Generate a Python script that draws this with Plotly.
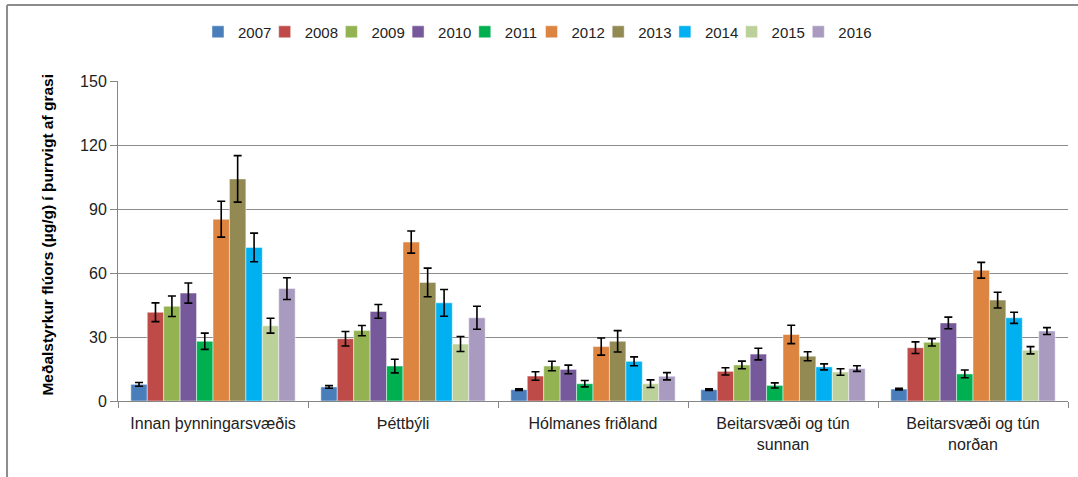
import plotly.graph_objects as go

categories = ["Innan þynningarsvæðis", "Þéttbýli", "Hólmanes friðland",
              "Beitarsvæði og tún<br>sunnan", "Beitarsvæði og tún<br>norðan"]
years = ["2007", "2008", "2009", "2010", "2011", "2012", "2013", "2014", "2015", "2016"]

v2007 = [7.8, 6.6, 5.3, 5.3, 5.6]
v2008 = [41.6, 29.2, 11.7, 13.9, 25.0]
v2009 = [44.4, 33.0, 16.4, 16.9, 27.5]
v2010 = [50.6, 42.0, 14.8, 22.0, 36.6]
v2011 = [28.0, 16.4, 8.1, 7.3, 12.7]
v2012 = [85.2, 74.5, 25.5, 31.2, 61.3]
v2013 = [104.1, 55.6, 28.0, 21.0, 47.3]
v2014 = [72.0, 46.0, 18.6, 16.0, 39.0]
v2015 = [35.3, 26.7, 8.1, 13.6, 23.8]
v2016 = [52.7, 39.0, 11.6, 15.2, 32.8]

e2007 = [0.9, 0.6, 0.4, 0.4, 0.4]
e2008 = [4.4, 3.4, 2.0, 1.7, 2.7]
e2009 = [4.8, 2.4, 2.2, 1.8, 1.7]
e2010 = [4.7, 3.2, 2.0, 2.7, 2.7]
e2011 = [3.8, 3.2, 1.5, 1.2, 1.8]
e2012 = [8.4, 5.2, 4.0, 4.3, 3.7]
e2013 = [10.9, 6.7, 5.0, 2.1, 3.7]
e2014 = [6.7, 6.25, 2.1, 1.4, 2.6]
e2015 = [3.5, 3.5, 1.8, 1.5, 1.7]
e2016 = [5.1, 5.4, 1.7, 1.3, 1.6]

values = [v2007, v2008, v2009, v2010, v2011, v2012, v2013, v2014, v2015, v2016]
errors = [e2007, e2008, e2009, e2010, e2011, e2012, e2013, e2014, e2015, e2016]
colors = ["#4A7EBB", "#BE4B48", "#93B251", "#76599A", "#00B050",
          "#DD8440", "#938953", "#00B0F0", "#BCD19A", "#A99BC0"]

font_family = "Liberation Sans, Arial, sans-serif"
leg_common = dict(orientation="h", y=1.153, yanchor="middle", xanchor="left",
                  font=dict(size=15, color="#222"), itemwidth=30, tracegroupgap=0,
                  traceorder="normal", bgcolor="rgba(255,255,255,0)")
leg_x0 = 0.0842          # paper x of first legend entry
leg_step = 66.7 / 950    # spacing between entries (paper units)

fig = go.Figure()
legend_layout = {}
for i, (yr, vals, errs, col) in enumerate(zip(years, values, errors, colors)):
    lname = "legend" if i == 0 else f"legend{i + 1}"
    legend_layout[lname] = dict(x=leg_x0 + i * leg_step, **leg_common)
    fig.add_trace(go.Bar(
        name=yr, x=categories, y=vals, legend=lname,
        marker=dict(color=col, line=dict(color="rgba(255,255,255,0.6)", width=0.8)),
        error_y=dict(type="data", array=errs, visible=True, color="black",
                     thickness=1.6, width=4),
    ))

fig.update_layout(
    width=1078, height=477,
    margin=dict(l=118, r=10, t=81, b=76),
    paper_bgcolor="white", plot_bgcolor="white",
    barmode="group", bargap=0.135, bargroupgap=0,
    font=dict(family=font_family, size=15, color="#222"),
    showlegend=True,
    xaxis=dict(showline=True, linecolor="#868686", linewidth=1,
               ticks="outside", tickson="boundaries", ticklen=6, tickcolor="#868686",
               ticklabelstandoff=8,
               tickfont=dict(size=16, color="#222")),
    yaxis=dict(range=[0, 150], tickvals=[0, 30, 60, 90, 120, 150],
               showline=True, linecolor="#868686", linewidth=1,
               ticks="outside", ticklen=7, tickcolor="#868686",
               showgrid=True, gridcolor="#8c8c8c", gridwidth=1,
               tickfont=dict(size=16, color="#222"), zeroline=False),
    annotations=[dict(text="<b>Meðalstyrkur flúors (µg/g) í þurrvigt af grasi</b>",
                      xref="paper", yref="paper", x=-0.0737, y=0.52,
                      xanchor="center", yanchor="middle",
                      textangle=-90, showarrow=False,
                      font=dict(size=15.5, color="black", family=font_family))],
    shapes=[
        dict(type="line", xref="paper", yref="paper", x0=-0.1168, x1=-0.1168, y0=1.2375, y1=-0.3,
             line=dict(color="#8c8c8c", width=2)),
        dict(type="line", xref="paper", yref="paper", x0=-0.1168, x1=1.05, y0=1.2375, y1=1.2375,
             line=dict(color="#8c8c8c", width=2)),
    ],
    **legend_layout,
)

fig.write_html("out.html", config={"displayModeBar": False},
               post_script="document.body.style.margin='0';")
